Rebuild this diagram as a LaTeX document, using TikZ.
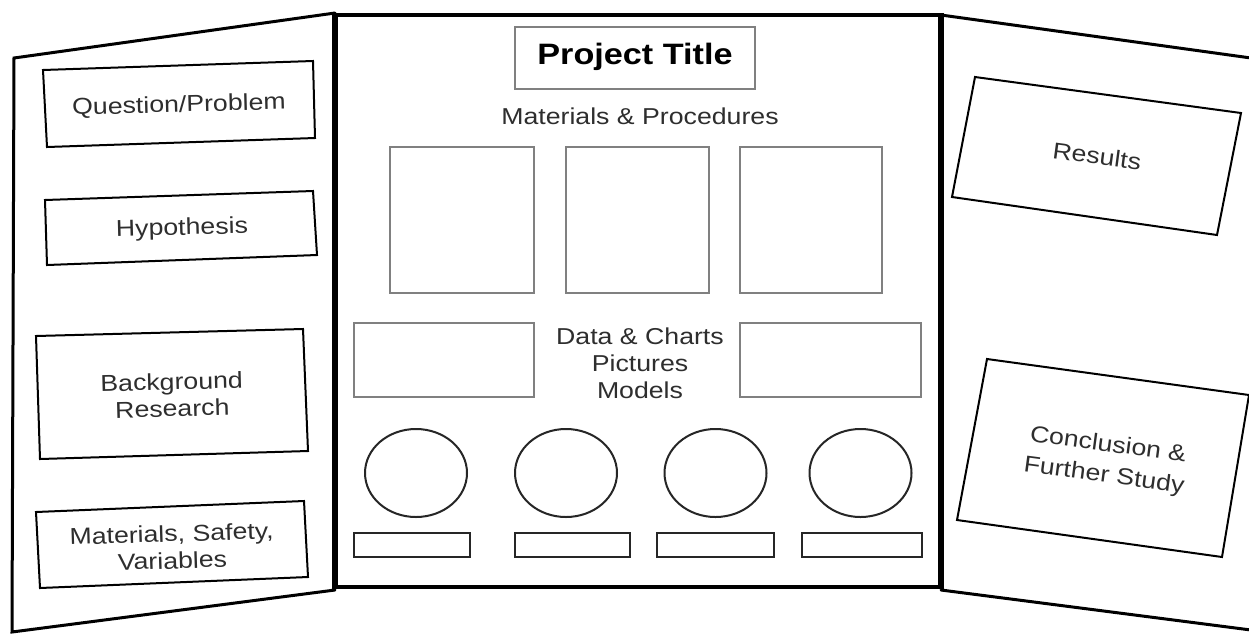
\documentclass[tikz,border=0pt]{standalone}
\usepackage{graphicx}
\usepackage{fontspec}
\setmainfont{Liberation Sans}
\newcommand{\hstretch}[1]{\scalebox{1.16}[1]{#1}}
\definecolor{txt}{HTML}{2E2E2E}
\definecolor{boxgray}{HTML}{808080}
\begin{document}
\begin{tikzpicture}[x=1pt,y=-1pt]
\tikzset{
  board/.style={line width=3pt, black, line cap=round},
  card/.style={line width=2pt, black, line join=miter},
  frame/.style={line width=2pt, boxgray},
  slot/.style={line width=2pt, black!85},
  lbl/.style={text=txt, font=\fontsize{23}{27}\selectfont, align=center, inner sep=0pt},
  tiltlbl/.style={lbl, font=\fontsize{23}{31}\selectfont},
}
\useasboundingbox (0,0) rectangle (1249,633);
\fill[white] (0,0) rectangle (1249,633);
% side panels
\draw[board] (335,13) -- (14,58) -- (12,632) -- (335,590);
\draw[board] (941,15) -- (1251,58);
\draw[board] (941,590) -- (1251,630);
% centre panel
\draw[line width=4pt] (335,15) rectangle (941,587);
\draw[line width=6pt] (335,13) -- (335,589);
\draw[line width=6pt] (941,13) -- (941,589);
% left cards
\draw[card] (43,70) -- (313,61) -- (315,138) -- (47,147) -- cycle;
\draw[card] (45,200) -- (313,191) -- (317,255) -- (47,265) -- cycle;
\draw[card] (36,336) -- (303,329) -- (308,451) -- (40,459) -- cycle;
\draw[card] (36,512) -- (304,501) -- (308,577) -- (40,588) -- cycle;
\node[lbl, rotate=1.5] (qp) at (179,106) {\hstretch{Question/Problem}};
\node[lbl, rotate=1.5] (hyp) at (182,229) {\hstretch{Hypothesis}};
\node[lbl, rotate=1.5] (bg) at (172,395) {\hstretch{Background}\\\hstretch{Research}};
\node[lbl, rotate=1.8] (msv) at (172,547) {\hstretch{Materials, Safety,}\\\hstretch{Variables}};
% right cards
\draw[card] (975,77) -- (1241,113) -- (1217,235) -- (952,197) -- cycle;
\draw[card] (987,359) -- (1249,395) -- (1222,557) -- (957,520) -- cycle;
\node[lbl, rotate=-7.6] (res) at (1097,156) {\hstretch{Results}};
\node[tiltlbl, rotate=-7.6] (con) at (1106,461) {\hstretch{Conclusion \&}\\\hstretch{Further Study}};
% centre contents
\draw[frame] (515,27) rectangle (755,89);
\node[inner sep=0pt, font=\fontsize{29.5}{34}\selectfont\bfseries] (title) at (635,57) {\hstretch{Project Title}};
\node[lbl] (mp) at (640,116) {\hstretch{Materials \& Procedures}};
\draw[frame] (390,147) rectangle (534,293);
\draw[frame] (566,147) rectangle (709,293);
\draw[frame] (740,147) rectangle (882,293);
\draw[frame] (354,323) rectangle (534,397);
\draw[frame] (740,323) rectangle (921,397);
\node[lbl] (dc) at (640,363) {\hstretch{Data \& Charts}\\\hstretch{Pictures}\\\hstretch{Models}};
\foreach \cx in {416,566,715.5,860.5}
  \draw[slot] (\cx,473) ellipse [x radius=51, y radius=44];
\draw[slot] (354,533) rectangle (470,557);
\draw[slot] (515,533) rectangle (630,557);
\draw[slot] (657,533) rectangle (774,557);
\draw[slot] (802,533) rectangle (922,557);
\end{tikzpicture}
\end{document}
